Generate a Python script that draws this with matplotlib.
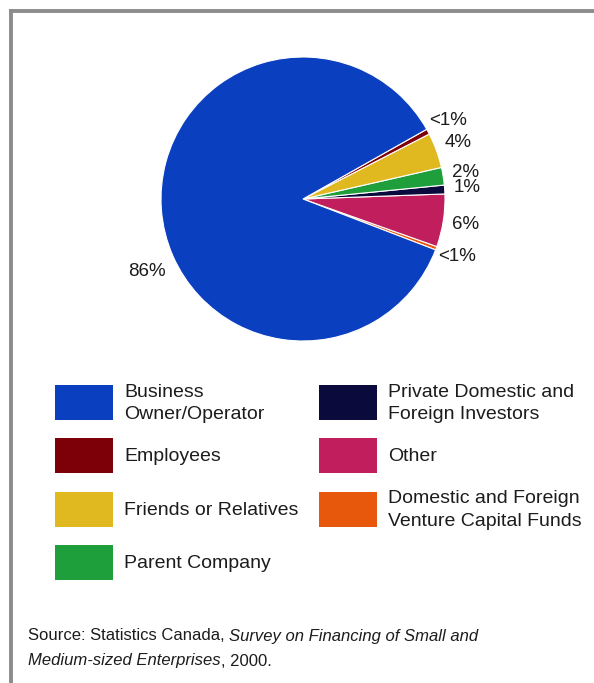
import numpy as np
import matplotlib
matplotlib.use("Agg")
import matplotlib.pyplot as plt
from matplotlib.patches import Rectangle
from matplotlib.lines import Line2D

plt.rcParams["font.family"] = ["Liberation Sans", "DejaVu Sans"]

# Sources of financing, in the order the wedges are drawn (counter-clockwise)
wedge_names = ["Domestic and Foreign\nVenture Capital Funds", "Other",
               "Private Domestic and\nForeign Investors", "Parent Company",
               "Friends or Relatives", "Employees", "Business\nOwner/Operator"]
wedge_values = [0.4, 6, 1, 2, 4, 0.6, 86]
wedge_labels = ["<1%", "6%", "1%", "2%", "4%", "<1%", "86%"]
wedge_colors = ["#e8580c", "#c01e5c", "#0a0a3c", "#1f9e3c", "#e0b820",
                "#7d0008", "#0a3fbf"]

# Legend order (two columns, filled top to bottom)
legend_left = ["Business\nOwner/Operator", "Employees", "Friends or Relatives",
               "Parent Company"]
legend_right = ["Private Domestic and\nForeign Investors", "Other",
                "Domestic and Foreign\nVenture Capital Funds"]

W, H = 594, 683
fig = plt.figure(figsize=(W / 100, H / 100), dpi=100)
fig.patch.set_facecolor("white")
txt = "#1c1c1c"

# pie axes, square in pixels
cx, cy, R = 303, 199, 142
ax = fig.add_axes([(cx - R) / W, 1 - (cy + R) / H, 2 * R / W, 2 * R / H])
wedges, _ = ax.pie(wedge_values, colors=wedge_colors, startangle=-21,
                   counterclock=True,
                   wedgeprops=dict(edgecolor="white", linewidth=0.8))
ax.set_xlim(-1, 1)
ax.set_ylim(-1, 1)
ax.axis("off")

for w, lab in zip(wedges, wedge_labels):
    mid = (w.theta1 + w.theta2) / 2
    r = 1.16
    if lab == "86%":
        mid, r = 205, 1.21
    a = np.deg2rad(mid)
    ax.text(r * np.cos(a), r * np.sin(a), lab, ha="center", va="center",
            fontsize=13.5, color=txt)

# legend drawn on an overlay in pixel units
lg = fig.add_axes([0, 0, 1, 1])
lg.set_xlim(0, W)
lg.set_ylim(H, 0)
lg.axis("off")
color_of = dict(zip(wedge_names, wedge_colors))
for col_x, names in ((55, legend_left), (319, legend_right)):
    for i, name in enumerate(names):
        top = 385 + i * 53.3
        lg.add_patch(Rectangle((col_x, top), 58, 35, facecolor=color_of[name],
                               edgecolor="none"))
        lg.text(col_x + 69, top + 18.5, name, ha="left", va="center",
                fontsize=14, color=txt, linespacing=1.42)

# source note, mixing upright and italic runs
src1 = lg.text(28, 636, "Source: Statistics Canada, ", ha="left", va="center",
               fontsize=12, color=txt)
lg.annotate("Survey on Financing of Small and", xy=(1, 0), xycoords=src1,
            ha="left", va="bottom", fontsize=12, style="italic", color=txt)
src2 = lg.text(28, 661, "Medium-sized Enterprises", ha="left", va="center",
               fontsize=12, style="italic", color=txt)
lg.annotate(", 2000.", xy=(1, 0), xycoords=src2, ha="left", va="bottom",
            fontsize=12, color=txt)

# grey frame along the top and left edges
fig.add_artist(Line2D([10.5 / W, 1], [1 - 10.5 / H, 1 - 10.5 / H],
                      transform=fig.transFigure, color="#8c8c8c", lw=2.8))
fig.add_artist(Line2D([10.5 / W, 10.5 / W], [0, 1 - 10.5 / H],
                      transform=fig.transFigure, color="#8c8c8c", lw=2.8))

fig.savefig("out.png", dpi=100)
